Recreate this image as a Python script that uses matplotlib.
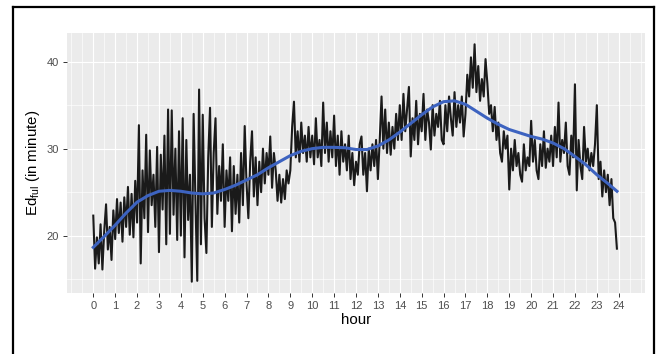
import numpy as np
import matplotlib
matplotlib.use("Agg")
import matplotlib.pyplot as plt
from matplotlib.lines import Line2D

plt.rcParams['font.family'] = ['Liberation Sans', 'DejaVu Sans']
plt.rcParams['mathtext.default'] = 'regular'

# Ed_ful every 5 minutes, one row per hour
ed_ful = [
  22.3, 16.2, 19.8, 16.8, 21.3, 16.1, 20.5, 23.6, 18.4, 21.0, 17.2, 22.9,  # 0
  19.6, 24.2, 20.3, 23.8, 19.3, 24.4, 21.0, 25.6, 20.1, 24.8, 19.8, 26.3,  # 1
  21.5, 32.7, 16.8, 27.5, 22.0, 31.6, 20.4, 29.8, 23.5, 27.0, 21.0, 30.2,  # 2
  18.1, 29.3, 23.0, 31.5, 19.0, 34.5, 20.2, 34.4, 22.4, 30.0, 19.5, 32.0,  # 3
  20.0, 33.5, 17.5, 31.0, 21.8, 27.0, 14.7, 34.0, 24.0, 14.8, 36.8, 19.0,  # 4
  33.9, 22.0, 18.0, 29.0, 34.7, 21.0, 29.5, 33.5, 22.5, 28.0, 24.0, 30.5,  # 5
  21.0, 27.5, 24.0, 29.0, 20.5, 28.0, 22.5, 27.0, 21.5, 29.5, 23.5, 32.6,  # 6
  26.0, 22.0, 28.5, 32.0, 24.5, 29.0, 23.5, 28.5, 25.0, 30.0, 26.0, 29.5,  # 7
  27.0, 31.4, 25.5, 29.5, 27.5, 24.0, 27.0, 23.8, 26.5, 24.2, 27.5, 26.0,  # 8
  27.5, 32.5, 35.4, 29.0, 32.0, 28.5, 33.0, 29.5, 31.5, 28.5, 32.5, 29.0,  # 9
  31.5, 28.2, 33.5, 29.0, 31.0, 28.0, 35.3, 29.5, 33.0, 28.5, 32.0, 29.0,  # 10
  33.8, 28.0, 31.5, 27.0, 32.0, 28.5, 30.5, 27.5, 31.5, 26.5, 29.5, 25.8,  # 11
  28.5, 27.0, 30.5, 31.4, 27.0, 29.5, 25.1, 30.0, 27.5, 30.5, 28.0, 31.0,  # 12
  26.5, 31.0, 36.0, 30.0, 34.5, 29.5, 33.0, 29.3, 32.5, 30.0, 34.0, 31.0,  # 13
  35.0, 31.0, 36.3, 32.0, 34.5, 37.1, 29.1, 33.5, 31.0, 35.5, 30.5, 34.0,  # 14
  32.0, 36.3, 31.0, 34.5, 33.0, 29.9, 35.0, 31.5, 34.0, 32.5, 35.5, 31.0,  # 15
  30.5, 35.0, 32.0, 36.0, 33.5, 31.5, 36.5, 32.5, 35.0, 33.0, 36.0, 31.4,  # 16
  34.0, 38.5, 36.0, 40.5, 37.0, 42.0, 36.5, 39.5, 35.5, 38.0, 36.0, 40.3,  # 17
  37.5, 34.0, 35.0, 32.0, 34.8, 31.0, 33.0, 29.5, 28.5, 32.0, 30.0, 31.5,  # 18
  25.3, 30.0, 27.5, 31.0, 28.0, 29.5, 27.0, 26.2, 30.5, 27.5, 29.0, 28.0,  # 19
  33.2, 28.5, 31.0, 27.5, 26.5, 30.5, 28.0, 32.0, 27.8, 30.0, 28.5, 31.5,  # 20
  28.0, 32.5, 29.0, 35.3, 28.5, 31.0, 29.5, 33.0, 28.0, 27.0, 31.5, 29.0,  # 21
  37.4, 25.2, 31.0, 28.0, 26.5, 32.5, 28.5, 30.0, 27.5, 29.5, 28.0, 30.5,  # 22
  35.0, 26.5, 28.5, 24.5, 27.5, 25.0, 27.0, 23.5, 26.5, 22.0, 21.5, 18.5,  # 23
]
hour = np.arange(len(ed_ful)) / 12.0

# smooth curve
smooth_hour = [0, 0.5, 1, 1.5, 2, 2.5, 3, 3.5, 4, 4.5, 5, 5.5, 6, 6.5, 7, 7.5,
               8, 8.5, 9, 9.5, 10, 10.5, 11, 11.5, 12, 12.5, 13, 13.5, 14, 14.5,
               15, 15.5, 16, 16.5, 17, 17.5, 18, 18.5, 19, 19.5, 20, 20.5, 21,
               21.5, 22, 22.5, 23, 23.5, 23.92]
smooth_val = [18.65, 19.9, 21.2, 22.6, 23.85, 24.6, 25.1, 25.2, 25.1, 24.9, 24.8,
              24.9, 25.3, 25.8, 26.4, 27.0, 27.8, 28.5, 29.2, 29.7, 30.0, 30.15,
              30.15, 30.1, 29.9, 29.9, 30.3, 31.0, 31.9, 32.9, 33.9, 34.8, 35.4,
              35.5, 35.1, 34.3, 33.5, 32.8, 32.2, 31.8, 31.4, 31.1, 30.65, 30.0,
              29.1, 28.15, 27.0, 26.0, 25.1]

x_ticks = list(range(0, 25))
y_ticks = [20, 30, 40]

fig = plt.figure(figsize=(6.59, 3.54), dpi=100)
ax = fig.add_axes([67 / 659, 61 / 354, 578 / 659, 260 / 354])
ax.set_facecolor('#EBEBEB')

ax.plot(hour, ed_ful, color='#1a1a1a', lw=1.5, zorder=3)
ax.plot(smooth_hour, smooth_val, color='#3d63c0', lw=2.2, zorder=4)

ax.set_xlim(-1.2, 25.2)
ax.set_ylim(13.4, 43.3)
ax.set_xticks(x_ticks)
ax.set_xticks(np.arange(-1, 25.5, 0.5), minor=True)
ax.set_yticks(y_ticks)
ax.set_yticks([15, 25, 35], minor=True)
ax.grid(which='major', color='white', lw=0.8)
ax.grid(which='minor', color='white', lw=0.45)
ax.set_axisbelow(True)
for s in ax.spines.values():
  s.set_visible(False)

ax.tick_params(which='major', length=3, width=0.7, color='#333333',
               labelsize=8, labelcolor='#4D4D4D', pad=3)
ax.tick_params(which='minor', length=0)

ax.set_xlabel('hour', fontsize=10.8, labelpad=1)
ax.set_ylabel('Ed$_{ful}$ (in minute)', fontsize=10.8, labelpad=3)

# frame around the figure (no bottom edge)
fig.add_artist(Line2D([13 / 659, 13 / 659], [0, 347 / 354], color='black', lw=1.6))
fig.add_artist(Line2D([13 / 659, 654 / 659], [347 / 354, 347 / 354], color='black', lw=1.6))
fig.add_artist(Line2D([654 / 659, 654 / 659], [347 / 354, 0], color='black', lw=1.6))

fig.savefig('out.png', dpi=100)
